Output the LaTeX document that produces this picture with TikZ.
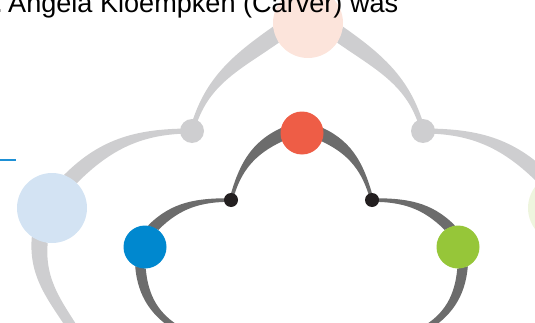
\documentclass[tikz,border=0pt]{standalone}
\usepackage{fontspec}
\setmainfont{Liberation Sans}
\usepackage{tikz}
\usepackage{xcolor}
\usetikzlibrary{calc,backgrounds}
\definecolor{petalpink}{RGB}{252,228,219}
\definecolor{petalred}{RGB}{238,93,70}
\definecolor{petalblue}{RGB}{0,136,207}
\definecolor{petalgreen}{RGB}{150,198,57}
\definecolor{palefblue}{RGB}{211,227,243}
\definecolor{palegreen}{RGB}{238,245,222}
\definecolor{lightbranch}{RGB}{206,206,208}
\definecolor{darkbranch}{RGB}{108,108,108}
\definecolor{jointblack}{RGB}{35,31,32}
\definecolor{accentblue}{RGB}{30,144,213}
\tikzset{
    big-circle/.style = {circle, inner sep=0pt, minimum size=70pt},
    mid-circle/.style = {circle, inner sep=0pt, minimum size=43pt},
    grey-joint/.style = {circle, fill=lightbranch, inner sep=0pt, minimum size=24pt},
    dark-joint/.style = {circle, fill=jointblack, inner sep=0pt, minimum size=14pt},
    dark-branch/.style = {fill=darkbranch},
    light-branch/.style = {fill=lightbranch},
}

\begin{document}
\begin{tikzpicture}[x=1pt,y=1pt]
\useasboundingbox (0,0) rectangle (535,322);
\clip (0,0) rectangle (535,322);

% outer ring
\node[big-circle, fill=petalpink] (pink) at (308,299) {};
\node[grey-joint] (lgjoint) at (192,191) {};
\node[grey-joint] (rgjoint) at (423,191) {};
\node[big-circle, fill=palefblue] (paleblue) at (52,114) {};
\node[big-circle, fill=palegreen] (palegreen) at (563,114) {};
\coordinate (paleblue-end) at (80,-18);

% inner ring
\node[mid-circle, fill=petalred] (red) at (302,189) {};
\node[dark-joint] (ljoint) at (231,122) {};
\node[dark-joint] (rjoint) at (372,122) {};
\node[mid-circle, fill=petalblue] (blue) at (145,75) {};
\node[mid-circle, fill=petalgreen] (green) at (458,75) {};
\coordinate (blue-end) at (180,-8);
\coordinate (green-end) at (423,-8);

\node[anchor=base east, inner sep=0pt, font=\fontsize{27.1}{32}\selectfont] (caption) at (398.5,309.3) {.\kern-4.7pt{} Angela Kloempken (Carver) was};
\draw[accentblue, line width=2pt] (0,162) -- (16,162);

\begin{scope}[on background layer]
% light branches
\fill[light-branch] (pink.186) to[out=215,in=75] ($(lgjoint)+(-2.5,0)$) -- ($(lgjoint)+(2.5,0)$) to[out=75,in=215] (pink.214) -- cycle;
\fill[light-branch] (pink.354) to[out=325,in=105] ($(rgjoint)+(2.5,0)$) -- ($(rgjoint)+(-2.5,0)$) to[out=105,in=325] (pink.326) -- cycle;
\fill[light-branch] ($(lgjoint)+(0,2.5)$) to[out=180,in=45] (paleblue.70) -- (paleblue.45) to[out=45,in=180] ($(lgjoint)+(0,-2.5)$) -- cycle;
\fill[light-branch] ($(rgjoint)+(0,2.5)$) to[out=0,in=135] (palegreen.110) -- (palegreen.135) to[out=135,in=0] ($(rgjoint)+(0,-2.5)$) -- cycle;
\fill[light-branch] (paleblue.235) to[out=265,in=121] ($(paleblue-end)+(-4.3,-2.6)$) -- ($(paleblue-end)+(4.3,2.6)$) to[out=121,in=265] (paleblue.263) -- cycle;
% dark branches
\fill[dark-branch] (red.167) to[out=205,in=75] ($(ljoint)+(-1.8,0)$) -- ($(ljoint)+(1.8,0)$) to[out=75,in=205] (red.203) -- cycle;
\fill[dark-branch] (red.13) to[out=335,in=105] ($(rjoint)+(1.8,0)$) -- ($(rjoint)+(-1.8,0)$) to[out=105,in=335] (red.337) -- cycle;
\fill[dark-branch] ($(ljoint)+(0,1.8)$) to[out=180,in=45] (blue.82) -- (blue.52) to[out=45,in=180] ($(ljoint)+(0,-1.8)$) -- cycle;
\fill[dark-branch] ($(rjoint)+(0,1.8)$) to[out=0,in=135] (green.98) -- (green.128) to[out=135,in=0] ($(rjoint)+(0,-1.8)$) -- cycle;
\fill[dark-branch] (blue.243) to[out=275,in=150] ($(blue-end)+(-1.5,-2.6)$) -- ($(blue-end)+(1.5,2.6)$) to[out=150,in=275] (blue.272) -- cycle;
\fill[dark-branch] (green.297) to[out=265,in=30] ($(green-end)+(1.5,-2.6)$) -- ($(green-end)+(-1.5,2.6)$) to[out=30,in=265] (green.268) -- cycle;
\end{scope}
\end{tikzpicture}
\end{document}
